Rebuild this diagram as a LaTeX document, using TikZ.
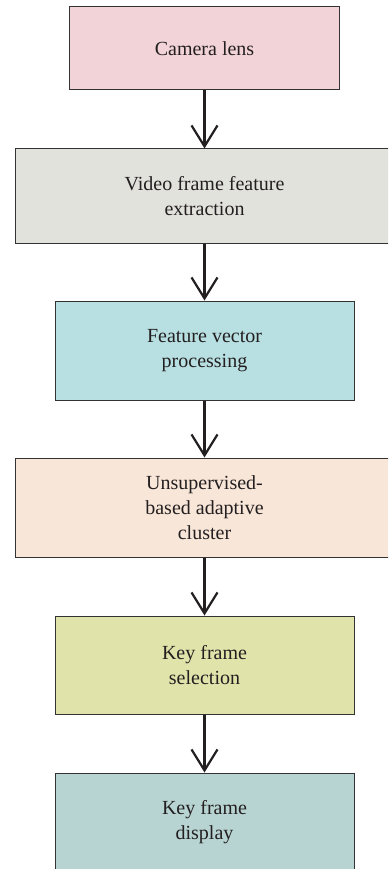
\documentclass[tikz,border=0pt]{standalone}
\usepackage{fontspec}
\setmainfont{Liberation Serif}
\usetikzlibrary{arrows.meta,positioning}
\definecolor{lenspink}{HTML}{F2D3D8}
\definecolor{extractgray}{HTML}{E2E2DD}
\definecolor{vectorcyan}{HTML}{B8E0E2}
\definecolor{clusterpeach}{HTML}{F8E6D8}
\definecolor{selectgreen}{HTML}{E0E4AA}
\definecolor{displayteal}{HTML}{B8D4D2}
\definecolor{edgegray}{HTML}{333333}
\definecolor{inkgray}{HTML}{231F20}

\begin{document}
\begin{tikzpicture}[x=1pt,y=-1pt,
every node/.style={rectangle,draw=edgegray,line width=1pt,align=center,
  text=inkgray,inner sep=0pt,font=\fontsize{20}{25}\selectfont},
wide/.style={minimum width=378pt},
narrow/.style={minimum width=299pt},
flow/.style={draw=inkgray,line width=2.2pt,
  -{Straight Barb[length=21pt,width=26pt]}}]
\clip (0,0) rectangle (388,869);
\node[fill=lenspink,minimum width=270pt,minimum height=83pt] (A1) at (204.5,48.5) {Camera lens};
\node[wide,fill=extractgray,minimum height=94pt] (A2) at (204.5,196) {Video frame feature\\extraction};
\node[narrow,fill=vectorcyan,minimum height=99pt] (A3) at (204.5,350.5) {Feature vector\\processing};
\node[wide,fill=clusterpeach,minimum height=99pt] (A4) at (204.5,507.5) {Unsupervised-\\based adaptive\\cluster};
\node[narrow,fill=selectgreen,minimum height=98pt] (A5) at (204.5,665) {Key frame\\selection};
\node[narrow,fill=displayteal,minimum height=99pt] (A6) at (204.5,822.5) {Key frame\\display};
\draw[flow] (A1)--(A2);
\draw[flow] (A2)--(A3);
\draw[flow] (A3)--(A4);
\draw[flow] (A4)--(A5);
\draw[flow] (A5)--(A6);
\end{tikzpicture}
\end{document}
